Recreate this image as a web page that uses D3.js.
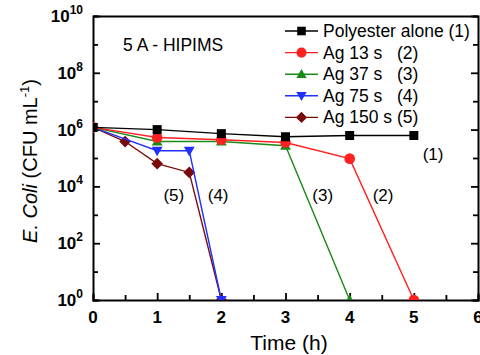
<!DOCTYPE html>
<html><head><meta charset="utf-8">
<script src="https://cdn.jsdelivr.net/npm/d3@7"></script>
<style>body{margin:0;background:#fff}svg{display:block;font-family:Arial,"Liberation Sans",sans-serif}</style>
</head><body><svg id="c" width="480" height="355"></svg>
<script>
const seriesNames = ["Polyester alone (1)", "Ag 13 s   (2)", "Ag 37 s   (3)", "Ag 75 s   (4)", "Ag 150 s (5)"];
const colors = ["#000000", "#ff2020", "#1a8a1a", "#2030ff", "#7a0a0a"];
const shapes = ["square", "circle", "triangle", "triangleDown", "diamond"];
const times1 = [0, 1, 2, 3, 4, 5];
const values1 = [1.2e6, 1.0e6, 7.2e5, 5.6e5, 6.2e5, 6.2e5];
const times2 = [0, 1, 2, 3, 4, 5];
const values2 = [1.2e6, 5.3e5, 4.4e5, 3.5e5, 9.5e4, 1];
const times3 = [0, 1, 2, 3, 4];
const values3 = [1.2e6, 3.8e5, 3.8e5, 2.7e5, 1];
const times4 = [0, 1, 1.5, 2];
const values4 = [1.2e6, 1.8e5, 1.8e5, 1];
const times5 = [0, 0.5, 1, 1.5, 2];
const values5 = [1.2e6, 3.8e5, 6.3e4, 3.1e4, 1];
const xTicks = [0, 1, 2, 3, 4, 5, 6];
const yTickExps = [0, 2, 4, 6, 8, 10];
const curveLabels = [{t: "(1)", x: 5.3, y: 8.5e4}, {t: "(2)", x: 4.52, y: 3e3}, {t: "(3)", x: 3.58, y: 3e3}, {t: "(4)", x: 1.95, y: 3e3}, {t: "(5)", x: 1.26, y: 3e3}];

const series = [[times1, values1], [times2, values2], [times3, values3], [times4, values4], [times5, values5]]
  .map((d, i) => ({name: seriesNames[i], color: colors[i], shape: shapes[i], pts: d[0].map((t, j) => ({t, v: d[1][j]}))}));

const svg = d3.select("#c");
const L = 93, R = 478, T = 16, B = 300;
const x = d3.scaleLinear().domain([0, 6]).range([L, R]);
const y = d3.scaleLog().domain([1, 1e10]).range([B, T]);

svg.append("defs").append("clipPath").attr("id", "clip").append("rect")
  .attr("x", L).attr("y", T).attr("width", R - L).attr("height", B - T);

function symbolPath(shape, size) {
  const s = size;
  if (shape === "square") return `M${-s},${-s}H${s}V${s}H${-s}Z`;
  if (shape === "circle") return d3.symbol(d3.symbolCircle, Math.PI * s * s * 1.4)();
  if (shape === "triangle") return `M0,${-s * 1.2}L${s * 1.2},${s * 0.9}L${-s * 1.2},${s * 0.9}Z`;
  if (shape === "triangleDown") return `M0,${s * 1.2}L${s * 1.2},${-s * 0.9}L${-s * 1.2},${-s * 0.9}Z`;
  if (shape === "diamond") return `M0,${-s * 1.3}L${s * 1.3},0L0,${s * 1.3}L${-s * 1.3},0Z`;
}

// axes
const xAxisB = d3.axisBottom(x).tickValues(d3.range(0, 6.01, 0.5)).tickSize(-5).tickFormat("");
const xAxisT = d3.axisTop(x).tickValues(d3.range(0, 6.01, 0.5)).tickSize(0).tickFormat("");
const yTickVals = d3.range(0, 11).map(e => Math.pow(10, e));
const yAxisL = d3.axisLeft(y).tickValues(yTickVals).tickSize(-5).tickFormat("");
const yAxisR = d3.axisRight(y).tickValues(yTickVals).tickSize(-5).tickFormat("");

const gxb = svg.append("g").attr("transform", `translate(0,${B})`).call(xAxisB);
const gyl = svg.append("g").attr("transform", `translate(${L},0)`).call(yAxisL);
const gyr = svg.append("g").attr("transform", `translate(${R},0)`).call(yAxisR);
const gxt = svg.append("g").attr("transform", `translate(0,${T})`).call(xAxisT);
[gxb, gyl, gyr, gxt].forEach(g => {
  g.select(".domain").attr("stroke", "#000").attr("stroke-width", 2);
  g.selectAll(".tick line").attr("stroke", "#000").attr("stroke-width", 1.8);
});
gxb.selectAll(".tick line").attr("y2", d => Number.isInteger(d) ? -7 : -5);
gyl.selectAll(".tick line").attr("x2", d => (Math.round(Math.log10(d)) % 2 === 0) ? 7 : 5);
gyr.selectAll(".tick line").attr("x2", d => (Math.round(Math.log10(d)) % 2 === 0) ? -7 : -5);

// tick labels
svg.append("g").selectAll("text").data(xTicks).join("text")
  .attr("x", d => x(d)).attr("y", B + 23).attr("text-anchor", "middle")
  .attr("font-size", 17).attr("font-weight", "bold").text(d => d);
const yl = svg.append("g").selectAll("text").data(yTickExps).join("text")
  .attr("x", L - 10).attr("y", d => y(Math.pow(10, d)) + 6).attr("text-anchor", "end")
  .attr("font-size", 17).attr("font-weight", "bold");
yl.append("tspan").text("10");
yl.append("tspan").attr("dy", -8).attr("font-size", 12).text(d => d);

// axis titles
svg.append("text").attr("x", 289).attr("y", 350).attr("text-anchor", "middle")
  .attr("font-size", 21).text("Time (h)");
const yt = svg.append("text").attr("transform", `translate(37,161) rotate(-90)`)
  .attr("text-anchor", "middle").attr("font-size", 20);
yt.append("tspan").attr("font-style", "italic").text("E. Coli");
yt.append("tspan").text(" (CFU mL");
yt.append("tspan").attr("dy", -8).attr("font-size", 13).text("-1");
yt.append("tspan").attr("dy", 8).text(")");

// data
const line = d3.line().x(d => x(d.t)).y(d => y(d.v));
const plot = svg.append("g").attr("clip-path", "url(#clip)");
series.slice().reverse().forEach(s => {
  plot.append("path").attr("d", line(s.pts)).attr("fill", "none").attr("stroke", s.color).attr("stroke-width", 1.4);
  plot.selectAll(null).data(s.pts).join("path")
    .attr("transform", d => `translate(${x(d.t)},${y(d.v)})`)
    .attr("d", symbolPath(s.shape, 4.5)).attr("fill", s.color);
});

// curve labels
svg.append("g").selectAll("text").data(curveLabels).join("text")
  .attr("x", d => x(d.x)).attr("y", d => y(d.y)).attr("text-anchor", "middle")
  .attr("font-size", 17).text(d => d.t);

svg.append("text").attr("x", 123).attr("y", 51).attr("font-size", 17.5).text("5 A - HIPIMS");

// legend
const leg = svg.append("g");
series.forEach((s, i) => {
  const yy = 31 + i * 21.6;
  leg.append("line").attr("x1", 285).attr("x2", 318).attr("y1", yy).attr("y2", yy).attr("stroke", s.color).attr("stroke-width", 1.4);
  leg.append("path").attr("transform", `translate(301.5,${yy})`).attr("d", symbolPath(s.shape, 4.3)).attr("fill", s.color);
  leg.append("text").attr("x", 323).attr("y", yy + 6).attr("font-size", 17.5).style("white-space", "pre").text(s.name);
});
</script></body></html>
